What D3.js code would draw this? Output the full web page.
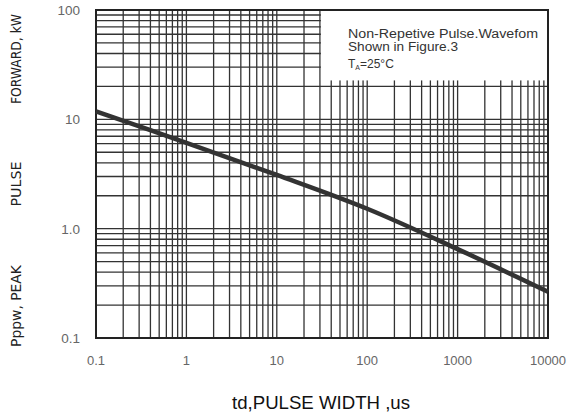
<!DOCTYPE html>
<html>
<head>
<meta charset="utf-8">
<script src="https://cdn.jsdelivr.net/npm/d3@7"></script>
<style>
  body { margin: 0; background: #fff; }
  svg { display: block; }
</style>
</head>
<body>
<svg id="chart" width="577" height="416"></svg>
<script>
// Curve (pulse width in us, peak pulse power in kW)
const pulseWidth = [0.1, 1, 10, 100, 1000, 10000];
const peakPower = [11.8, 6.1, 3.1, 1.52, 0.65, 0.265];

// Tick labels
const xTickValues = [0.1, 1, 10, 100, 1000, 10000];
const xTickLabels = ["0.1", "1", "10", "100", "1000", "10000"];
const yTickValues = [0.1, 1, 10, 100];
const yTickLabels = ["0.1", "1.0", "10", "100"];

// Grid: every 1..9 step inside each decade
const xDecades = [0.1, 1, 10, 100, 1000];
const yDecades = [0.1, 1, 10];
const steps = [1, 2, 3, 4, 5, 6, 7, 8, 9];

const svg = d3.select("#chart");
const plotLeft = 96, plotRight = 548, plotTop = 10, plotBottom = 338;

const x = d3.scaleLog().domain([0.1, 10000]).range([plotLeft, plotRight]);
const y = d3.scaleLog().domain([0.1, 100]).range([plotBottom, plotTop]);

const xGrid = xDecades.flatMap((d) => steps.map((s) => d * s));
const yGrid = yDecades.flatMap((d) => steps.map((s) => d * s));

const grid = svg.append("g").attr("stroke", "#333").attr("stroke-width", 1.3);

grid.selectAll("line.v")
  .data(xGrid)
  .join("line")
  .attr("class", "v")
  .attr("x1", (d) => x(d)).attr("x2", (d) => x(d))
  .attr("y1", plotTop).attr("y2", plotBottom);

grid.selectAll("line.h")
  .data(yGrid)
  .join("line")
  .attr("class", "h")
  .attr("x1", plotLeft).attr("x2", plotRight)
  .attr("y1", (d) => y(d)).attr("y2", (d) => y(d));

// White note box in the top right corner hides the grid
svg.append("rect")
  .attr("x", x(30) + 1)
  .attr("y", plotTop)
  .attr("width", plotRight - x(30) - 1)
  .attr("height", y(20) - plotTop - 6)
  .attr("fill", "#fff");

// Frame
svg.append("rect")
  .attr("x", plotLeft).attr("y", plotTop)
  .attr("width", plotRight - plotLeft).attr("height", plotBottom - plotTop)
  .attr("fill", "none")
  .attr("stroke", "#222")
  .attr("stroke-width", 2);

// Curve
const line = d3.line()
  .x((d, i) => x(pulseWidth[i]))
  .y((d) => y(d))
  .curve(d3.curveCatmullRom.alpha(0.5));

svg.append("path")
  .datum(peakPower)
  .attr("d", line)
  .attr("fill", "none")
  .attr("stroke", "#333")
  .attr("stroke-width", 4.5);

// Tick labels
svg.append("g")
  .selectAll("text")
  .data(xTickValues)
  .join("text")
  .attr("x", (d) => x(d))
  .attr("y", 365)
  .attr("text-anchor", "middle")
  .attr("font-family", "Liberation Sans, Arial, sans-serif")
  .attr("font-size", 13)
  .attr("fill", "#666")
  .text((d, i) => xTickLabels[i]);

svg.append("g")
  .selectAll("text")
  .data(yTickValues)
  .join("text")
  .attr("x", 80)
  .attr("y", (d) => y(d) + 5)
  .attr("text-anchor", "end")
  .attr("font-family", "Liberation Sans, Arial, sans-serif")
  .attr("font-size", 13.5)
  .attr("fill", "#666")
  .text((d, i) => yTickLabels[i]);

// Axis titles
svg.append("text")
  .attr("x", 321)
  .attr("y", 409)
  .attr("text-anchor", "middle")
  .attr("font-family", "Liberation Sans, Arial, sans-serif")
  .attr("font-size", 17.5)
  .attr("fill", "#111")
  .attr("textLength", 178)
  .attr("lengthAdjust", "spacingAndGlyphs")
  .text("td,PULSE WIDTH ,us");

const yTitles = [
  { text: "FORWARD, kW", cy: 59, len: 90 },
  { text: "PULSE", cy: 184, len: 45 },
  { text: "Pppw, PEAK", cy: 306, len: 82 }
];

svg.append("g")
  .selectAll("text")
  .data(yTitles)
  .join("text")
  .attr("transform", (d) => `translate(21,${d.cy}) rotate(-90)`)
  .attr("text-anchor", "middle")
  .attr("font-family", "Liberation Sans Narrow, DejaVu Sans Condensed, sans-serif")
  .attr("font-size", 14)
  .attr("fill", "#222")
  .attr("textLength", (d) => d.len)
  .attr("lengthAdjust", "spacingAndGlyphs")
  .text((d) => d.text);

// Note
const note = svg.append("g")
  .attr("font-family", "Liberation Sans, Arial, sans-serif")
  .attr("font-size", 12)
  .attr("fill", "#333");

note.append("text")
  .attr("x", 348).attr("y", 38)
  .attr("textLength", 190)
  .attr("lengthAdjust", "spacingAndGlyphs")
  .text("Non-Repetive  Pulse.Wavefom");

note.append("text")
  .attr("x", 348).attr("y", 51)
  .attr("textLength", 110)
  .attr("lengthAdjust", "spacingAndGlyphs")
  .text("Shown in Figure.3");

const ta = note.append("text").attr("x", 348).attr("y", 68);
ta.append("tspan").text("T");
ta.append("tspan").attr("font-size", 7).attr("dy", 2).text("A");
ta.append("tspan").attr("dy", -2).text("=25°C");
</script>
</body>
</html>
